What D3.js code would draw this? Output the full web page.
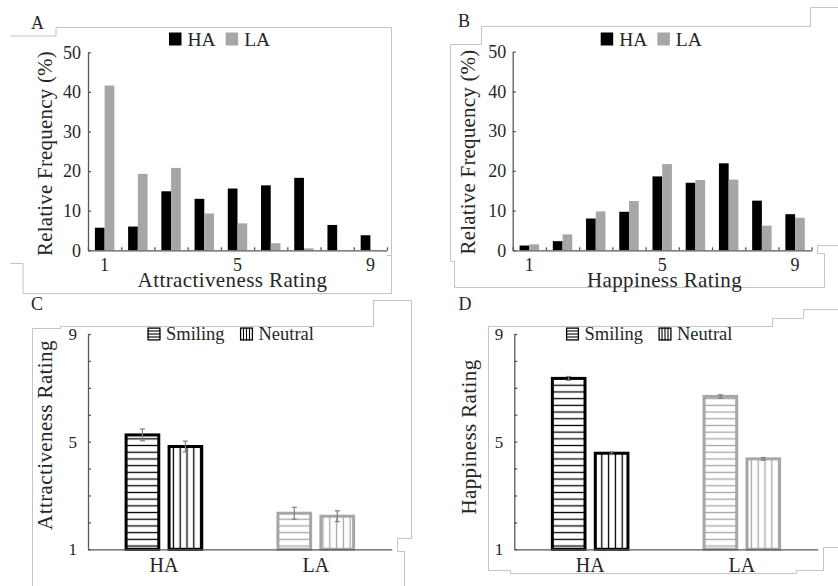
<!DOCTYPE html>
<html>
<head>
<meta charset="utf-8">
<script src="https://cdn.jsdelivr.net/npm/d3@7"></script>
<style>
  html, body { margin: 0; padding: 0; background: #fff; }
  svg text { font-family: "Liberation Serif", "Times New Roman", serif; fill: #262626; }
</style>
</head>
<body>
<svg id="fig" width="838" height="586"></svg>
<script>
// ---- data -------------------------------------------------------------
const ratings = [1, 2, 3, 4, 5, 6, 7, 8, 9];
const ratingLabels = [1, 5, 9];
const freqTicks = [0, 10, 20, 30, 40, 50];
const groups = ["HA", "LA"];
const conditions = ["Smiling", "Neutral"];

// relative frequency (%) of each rating
const attrFreqHA = [5.7, 6.0, 14.9, 13.0, 15.6, 16.4, 18.3, 6.4, 3.8];
const attrFreqLA = [41.6, 19.3, 20.8, 9.3, 6.8, 1.8, 0.5, 0, 0];
const happyFreqHA = [1.2, 2.3, 8.0, 9.7, 18.6, 17.0, 21.9, 12.5, 9.1];
const happyFreqLA = [1.5, 4.0, 9.8, 12.4, 21.7, 17.7, 17.8, 6.2, 8.2];

// mean ratings [Smiling, Neutral] and their error bars
const attrMeanHA = [5.25, 4.82];
const attrMeanLA = [2.34, 2.23];
const attrErrHA = [0.22, 0.20];
const attrErrLA = [0.22, 0.20];
const happyMeanHA = [7.35, 4.57];
const happyMeanLA = [6.68, 4.36];
const happyErrHA = [0.07, 0.05];
const happyErrLA = [0.06, 0.05];

const ratingScaleTicks = [1, 2, 3, 4, 5, 6, 7, 8, 9];
const ratingScaleLabels = [1, 5, 9];

// ---- styles -----------------------------------------------------------
const COL = { HA: "#000000", LA: "#a6a6a6" };
const AXIS = "#595959";
const FRAME = "#c4c4c4";

const svg = d3.select("#fig");
const defs = svg.append("defs");

// stripe fills for the mean-rating bars
function stripe(id, color, dir, gap) {
  const p = defs.append("pattern").attr("id", id)
    .attr("patternUnits", "userSpaceOnUse")
    .attr("width", dir === "h" ? 10 : gap)
    .attr("height", dir === "h" ? gap : 10);
  p.append("rect").attr("width", dir === "h" ? 10 : gap)
    .attr("height", dir === "h" ? gap : 10).attr("fill", "#fff");
  if (dir === "h") {
    p.append("line").attr("x1", 0).attr("x2", 10).attr("y1", gap / 2).attr("y2", gap / 2)
      .attr("stroke", color).attr("stroke-width", 1.3);
  } else {
    p.append("line").attr("y1", 0).attr("y2", 10).attr("x1", gap / 2).attr("x2", gap / 2)
      .attr("stroke", color).attr("stroke-width", 1.3);
  }
}
groups.forEach(g => {
  stripe("h-" + g, COL[g], "h", 6.7);
  stripe("v-" + g, COL[g], "v", 6.8);
});

// ---- light frame lines around each panel -------------------------------
const frames = [
  [[10, 36], [56, 36], [56, 27.5], [391.5, 27.5], [391.5, 293.5], [23, 293.5], [23, 263.5], [10, 263.5]],
  [[386.5, 255.5], [391.5, 255.5]],
  [[838, 7.5], [810.5, 7.5], [810.5, 26.5], [481.5, 26.5], [481.5, 44.5], [450.5, 44.5], [450.5, 261.5],
   [454.5, 261.5], [454.5, 287.5], [824.5, 287.5], [824.5, 253.5], [817.5, 253.5], [817.5, 245.5], [838, 245.5]],
  [[32.5, 586], [32.5, 328.5], [60.5, 328.5], [60.5, 326.5], [373.5, 326.5], [373.5, 300.5], [411.5, 300.5],
   [411.5, 538.5], [397.5, 538.5], [397.5, 551.5], [404.5, 551.5], [404.5, 586]],
  [[838, 309.5], [803.5, 309.5], [803.5, 318.5], [772.5, 318.5], [772.5, 326.5], [488.5, 326.5], [488.5, 570.5],
   [510.5, 570.5], [510.5, 573.5], [796.5, 573.5], [796.5, 570.5], [823.5, 570.5], [823.5, 547.5], [838, 547.5]]
];
const line = d3.line();
svg.append("g").selectAll("path").data(frames).join("path")
  .attr("d", line).attr("fill", "none").attr("stroke", FRAME).attr("stroke-width", 1);

function styleAxis(g) {
  g.selectAll(".domain, .tick line").attr("stroke", AXIS).attr("stroke-width", 1.3);
  g.selectAll(".tick text").attr("fill", "#262626").attr("font-family", null);
}

// ---- frequency histograms (A, B) --------------------------------------
function histogram(cfg) {
  const g = svg.append("g");
  const x0 = d3.scaleBand().domain(ratings).range([cfg.left, cfg.right]).padding(0);
  const pair = x0.bandwidth() * 0.585;
  const x1 = d3.scaleBand().domain(groups).range([0, pair]);
  const y = d3.scaleLinear().domain([0, 50]).range([cfg.y0, cfg.y50]);
  const series = { HA: cfg.ha, LA: cfg.la };

  // bars
  groups.forEach(k => {
    g.append("g").selectAll("rect").data(ratings).join("rect")
      .attr("x", (r) => x0(r) + (x0.bandwidth() - pair) / 2 + x1(k))
      .attr("width", x1.bandwidth())
      .attr("y", (r, i) => y(series[k][i]))
      .attr("height", (r, i) => y(0) - y(series[k][i]))
      .attr("fill", COL[k]);
  });

  // y axis
  const ya = g.append("g").attr("transform", `translate(${cfg.left},0)`)
    .call(d3.axisLeft(y).tickValues(freqTicks).tickSizeInner(-3).tickSizeOuter(0).tickPadding(cfg.yPad))
    .attr("font-size", 18);
  styleAxis(ya);

  // x axis: boundary ticks
  const xb = d3.scaleLinear().domain([0, ratings.length]).range([cfg.left, cfg.right]);
  const xa = g.append("g").attr("transform", `translate(0,${cfg.y0})`)
    .call(d3.axisBottom(xb).ticks(ratings.length).tickSizeInner(-3).tickSizeOuter(0).tickFormat(""));
  styleAxis(xa);
  const xl = g.append("g").attr("transform", `translate(0,${cfg.y0})`)
    .call(d3.axisBottom(x0).tickValues(ratingLabels).tickSize(0).tickPadding(8))
    .attr("font-size", 18);
  xl.select(".domain").remove();
  styleAxis(xl);

  // titles
  g.append("text").attr("x", cfg.xTitleX).attr("y", cfg.xTitleY).attr("text-anchor", "middle")
    .attr("font-size", 21).attr("letter-spacing", 0.4).text(cfg.xTitle);
  g.append("text").attr("transform", `translate(${cfg.yTitleX},${cfg.yTitleY}) rotate(-90)`)
    .attr("text-anchor", "middle").attr("font-size", 21).attr("letter-spacing", 0.2)
    .text("Relative Frequency (%)");
  g.append("text").attr("x", cfg.letterX).attr("y", cfg.letterY).attr("font-size", 18).text(cfg.letter);

  // legend
  const lg = g.append("g").attr("transform", `translate(${cfg.legendX},32.5)`);
  let cx = 0;
  groups.forEach((k, i) => {
    lg.append("rect").attr("x", cx).attr("y", 0).attr("width", 12.5).attr("height", 13).attr("fill", COL[k]);
    const t = lg.append("text").attr("x", cx + 18.5).attr("y", 13).attr("font-size", 19.5).text(k);
    cx += 18.5 + t.node().getComputedTextLength() + 10;
  });
}

histogram({
  left: 88, right: 387, y0: 250.3, y50: 52.3, ha: attrFreqHA, la: attrFreqLA, yPad: 7,
  xTitle: "Attractiveness Rating", xTitleX: 232.5, xTitleY: 286.5,
  yTitleX: 52, yTitleY: 153.5, letter: "A", letterX: 31, letterY: 28.5, legendX: 169
});
histogram({
  left: 512.7, right: 811.7, y0: 250.3, y50: 51.7, ha: happyFreqHA, la: happyFreqLA, yPad: 6.5,
  xTitle: "Happiness Rating", xTitleX: 664.5, xTitleY: 286.5,
  yTitleX: 475, yTitleY: 152, letter: "B", letterX: 458, letterY: 27, legendX: 600.7
});

// ---- mean ratings by condition (C, D) ---------------------------------
function meanBars(cfg) {
  const g = svg.append("g");
  const x0 = d3.scaleBand().domain(groups).range([cfg.left, cfg.right]).padding(0);
  const groupW = x0.bandwidth() * 0.518;
  const x1 = d3.scaleBand().domain(conditions).range([0, groupW]).paddingInner(0.17);
  const y = d3.scaleLinear().domain([1, 9]).range([cfg.y1, cfg.y9]);
  const means = { HA: cfg.meanHA, LA: cfg.meanLA };
  const errs = { HA: cfg.errHA, LA: cfg.errLA };
  const sw = 3;

  groups.forEach(k => {
    const bx = (c) => x0(k) + (x0.bandwidth() - groupW) / 2 + x1(c);
    g.append("g").selectAll("rect").data(conditions).join("rect")
      .attr("x", c => bx(c) + sw / 2)
      .attr("width", x1.bandwidth() - sw)
      .attr("y", (c, i) => y(means[k][i]))
      .attr("height", (c, i) => y(1) - y(means[k][i]))
      .attr("fill", (c, i) => `url(#${i === 0 ? "h" : "v"}-${k})`)
      .attr("stroke", COL[k]).attr("stroke-width", sw);

    // error bars
    const eb = g.append("g").attr("stroke", "#7f7f7f").attr("stroke-width", 1.2);
    conditions.forEach((c, i) => {
      const cx = bx(c) + x1.bandwidth() / 2;
      const lo = y(means[k][i] - errs[k][i]), hi = y(means[k][i] + errs[k][i]);
      eb.append("line").attr("x1", cx).attr("x2", cx).attr("y1", lo).attr("y2", hi);
      eb.append("line").attr("x1", cx - 2.5).attr("x2", cx + 2.5).attr("y1", lo).attr("y2", lo);
      eb.append("line").attr("x1", cx - 2.5).attr("x2", cx + 2.5).attr("y1", hi).attr("y2", hi);
    });
  });

  // y axis
  const ya = g.append("g").attr("transform", `translate(${cfg.left},0)`)
    .call(d3.axisLeft(y).tickValues(ratingScaleTicks).tickSizeInner(-3).tickSizeOuter(0).tickPadding(11)
      .tickFormat(d => ratingScaleLabels.includes(d) ? d : ""))
    .attr("font-size", 17);
  styleAxis(ya);

  // x axis
  const xa = g.append("g").attr("transform", `translate(0,${cfg.y1})`)
    .call(d3.axisBottom(x0).tickSize(0).tickSizeOuter(0).tickPadding(8.5))
    .attr("font-size", 20);
  styleAxis(xa);

  g.append("text").attr("transform", `translate(${cfg.yTitleX},${cfg.yTitleY}) rotate(-90)`)
    .attr("text-anchor", "middle").attr("font-size", 21).attr("letter-spacing", 0.4).text(cfg.yTitle);
  g.append("text").attr("x", cfg.letterX).attr("y", cfg.letterY).attr("font-size", 18).text(cfg.letter);

  // legend
  const lg = g.append("g").attr("transform", `translate(${cfg.legendX},327.5)`);
  conditions.forEach((c, i) => {
    const ox = cfg.legendOffsets[i];
    const ic = lg.append("g").attr("transform", `translate(${ox},0)`);
    ic.append("rect").attr("x", 0.6).attr("y", 0.6).attr("width", 11.8).attr("height", 11.8)
      .attr("fill", "#fff").attr("stroke", "#000").attr("stroke-width", 1.3);
    [3.5, 6.5, 9.5].forEach(p => {
      if (i === 0) ic.append("line").attr("x1", 0).attr("x2", 13).attr("y1", p).attr("y2", p)
        .attr("stroke", "#000").attr("stroke-width", 1.1);
      else ic.append("line").attr("y1", 0).attr("y2", 13).attr("x1", p).attr("x2", p)
        .attr("stroke", "#000").attr("stroke-width", 1.1);
    });
    lg.append("text").attr("x", ox + 18.5).attr("y", 12.5).attr("font-size", 18.5).text(c);
  });
}

meanBars({
  left: 88, right: 391.7, y1: 549.3, y9: 334,
  meanHA: attrMeanHA, meanLA: attrMeanLA, errHA: attrErrHA, errLA: attrErrLA,
  yTitle: "Attractiveness Rating", yTitleX: 52, yTitleY: 435,
  letter: "C", letterX: 31, letterY: 310, legendX: 147.5, legendOffsets: [0, 92.5]
});
meanBars({
  left: 514.3, right: 817.7, y1: 549.3, y9: 334,
  meanHA: happyMeanHA, meanLA: happyMeanLA, errHA: happyErrHA, errLA: happyErrLA,
  yTitle: "Happiness Rating", yTitleX: 476, yTitleY: 437,
  letter: "D", letterX: 458.5, letterY: 310, legendX: 566, legendOffsets: [0, 92.5]
});
</script>
</body>
</html>
